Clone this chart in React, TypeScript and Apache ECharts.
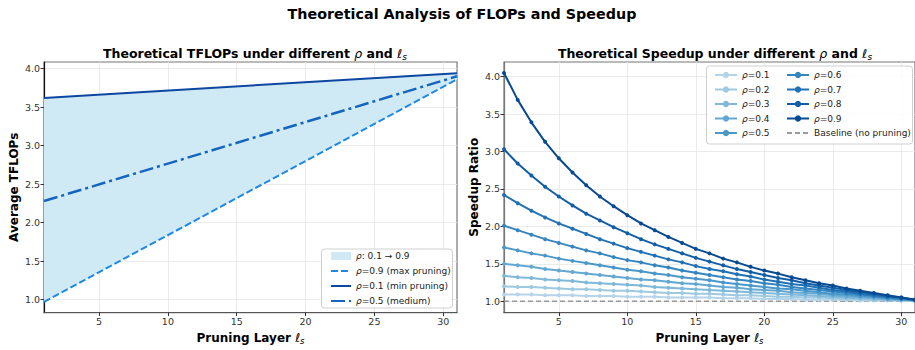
import React, { useEffect, useRef } from "react";
import * as echarts from "echarts";

// ---------- data ----------
const TFLOPS_X = [1, 31];
const TFLOPS_RHO09 = [0.97, 3.86];
const TFLOPS_RHO05 = [2.28, 3.9];
const TFLOPS_RHO01 = [3.62, 3.94];

const LAYERS = [
  1, 2, 3, 4, 5, 6, 7, 8, 9, 10, 11, 12, 13, 14, 15, 16, 17, 18, 19, 20, 21, 22,
  23, 24, 25, 26, 27, 28, 29, 30, 31,
];
const RHO_LABELS = ["0.1", "0.2", "0.3", "0.4", "0.5", "0.6", "0.7", "0.8", "0.9"];
const SPEEDUP_01 = [1.09, 1.09, 1.09, 1.08, 1.08, 1.08, 1.07, 1.07, 1.07, 1.06, 1.06, 1.06, 1.05, 1.05, 1.05, 1.05, 1.04, 1.04, 1.04, 1.03, 1.03, 1.03, 1.02, 1.02, 1.02, 1.02, 1.01, 1.01, 1.01, 1.01, 1.0];
const SPEEDUP_02 = [1.2, 1.19, 1.19, 1.18, 1.17, 1.16, 1.16, 1.15, 1.14, 1.14, 1.13, 1.12, 1.11, 1.11, 1.1, 1.1, 1.09, 1.08, 1.08, 1.07, 1.06, 1.06, 1.05, 1.05, 1.04, 1.03, 1.03, 1.02, 1.02, 1.01, 1.01];
const SPEEDUP_03 = [1.34, 1.32, 1.31, 1.29, 1.28, 1.27, 1.25, 1.24, 1.23, 1.22, 1.21, 1.19, 1.18, 1.17, 1.16, 1.15, 1.14, 1.13, 1.12, 1.11, 1.1, 1.09, 1.08, 1.07, 1.06, 1.05, 1.04, 1.03, 1.02, 1.02, 1.01];
const SPEEDUP_04 = [1.5, 1.48, 1.46, 1.43, 1.41, 1.39, 1.37, 1.35, 1.33, 1.31, 1.29, 1.28, 1.26, 1.24, 1.23, 1.21, 1.19, 1.18, 1.16, 1.15, 1.14, 1.12, 1.11, 1.1, 1.08, 1.07, 1.06, 1.05, 1.03, 1.02, 1.01];
const SPEEDUP_05 = [1.72, 1.68, 1.64, 1.61, 1.57, 1.54, 1.51, 1.48, 1.45, 1.42, 1.4, 1.37, 1.35, 1.32, 1.3, 1.28, 1.25, 1.23, 1.21, 1.19, 1.17, 1.16, 1.14, 1.12, 1.1, 1.09, 1.07, 1.06, 1.04, 1.03, 1.01];
const SPEEDUP_06 = [2.01, 1.95, 1.89, 1.83, 1.78, 1.73, 1.68, 1.64, 1.59, 1.55, 1.52, 1.48, 1.45, 1.41, 1.38, 1.35, 1.32, 1.29, 1.27, 1.24, 1.22, 1.19, 1.17, 1.15, 1.13, 1.11, 1.09, 1.07, 1.05, 1.03, 1.02];
const SPEEDUP_07 = [2.42, 2.31, 2.21, 2.12, 2.04, 1.97, 1.9, 1.83, 1.77, 1.71, 1.66, 1.61, 1.56, 1.52, 1.47, 1.43, 1.4, 1.36, 1.33, 1.29, 1.26, 1.23, 1.21, 1.18, 1.15, 1.13, 1.1, 1.08, 1.06, 1.04, 1.02];
const SPEEDUP_08 = [3.03, 2.84, 2.68, 2.53, 2.4, 2.28, 2.17, 2.08, 1.99, 1.91, 1.83, 1.76, 1.7, 1.64, 1.58, 1.53, 1.48, 1.43, 1.39, 1.35, 1.31, 1.28, 1.24, 1.21, 1.18, 1.15, 1.12, 1.1, 1.07, 1.05, 1.02];
const SPEEDUP_09 = [4.05, 3.69, 3.39, 3.13, 2.91, 2.72, 2.55, 2.4, 2.27, 2.15, 2.04, 1.95, 1.86, 1.78, 1.7, 1.64, 1.57, 1.52, 1.46, 1.41, 1.37, 1.32, 1.28, 1.24, 1.21, 1.17, 1.14, 1.11, 1.08, 1.05, 1.02];
const SPEEDUPS = [SPEEDUP_01, SPEEDUP_02, SPEEDUP_03, SPEEDUP_04, SPEEDUP_05, SPEEDUP_06, SPEEDUP_07, SPEEDUP_08, SPEEDUP_09];
const BASELINE_X = [1, 31];
const BASELINE = [1.0, 1.0];

const X_TICKS = [5, 10, 15, 20, 25, 30];
const LEFT_Y_TICKS = [1.0, 1.5, 2.0, 2.5, 3.0, 3.5, 4.0];
const RIGHT_Y_TICKS = [1.0, 1.5, 2.0, 2.5, 3.0, 3.5, 4.0];

// ---------- styles ----------
const FONT = "DejaVu Sans";
const BLUES = ["#b6d4e9", "#9ecae1", "#7fb9da", "#63a8d3", "#4a98c9", "#3585bf", "#2171b5", "#125ea6", "#084a92"];
const FILL = "#cfe9f5";
const C01 = "#0d47a1";
const C05 = "#1565c0";
const C09 = "#1e88e5";

const subRich = {
  b: { fontFamily: FONT, fontWeight: "bold", fontSize: 12.5, color: "#000" },
  i: { fontFamily: FONT, fontWeight: "normal", fontStyle: "italic", fontSize: 12.5, color: "#000" },
  s: { fontFamily: FONT, fontWeight: "normal", fontStyle: "italic", fontSize: 9, color: "#000", padding: [7, 0, 0, 0] },
};
const nameRich = {
  b: { fontFamily: FONT, fontWeight: "bold", fontSize: 12, color: "#000" },
  i: { fontFamily: FONT, fontWeight: "normal", fontStyle: "italic", fontSize: 12, color: "#000" },
  s: { fontFamily: FONT, fontWeight: "normal", fontStyle: "italic", fontSize: 8.5, color: "#000", padding: [6, 0, 0, 0] },
};
const legendRich = {
  i: { fontFamily: FONT, fontStyle: "italic", fontSize: 9, color: "#222" },
  t: { fontFamily: FONT, fontSize: 9, color: "#222" },
};
const legendFormatter = (name: string) =>
  name.startsWith("ρ") ? "{i|ρ}{t|" + name.slice(1) + "}" : "{t|" + name + "}";

function xAxis(gridIndex: number) {
  return {
    type: "value",
    gridIndex,
    min: 1,
    max: 31,
    name: "{b|Pruning Layer }{i|ℓ}{s|s}",
    nameLocation: "middle",
    nameGap: 16,
    nameTextStyle: { rich: nameRich },
    axisLine: { show: true, lineStyle: { color: "#555", width: 1.2 } },
    axisTick: { show: true, customValues: X_TICKS, length: 3.5, lineStyle: { color: "#333", width: 1 } },
    axisLabel: { customValues: X_TICKS, fontFamily: FONT, fontSize: 9.5, color: "#333", margin: 4 },
    splitLine: { show: true, lineStyle: { color: "#e6e6e6", width: 0.8 } },
  };
}

function yAxis(gridIndex: number, min: number, max: number, ticks: number[], name: string, lineColor: string) {
  return {
    type: "value",
    gridIndex,
    min,
    max,
    name,
    nameLocation: "middle",
    nameGap: 24,
    nameTextStyle: { fontFamily: FONT, fontWeight: "bold", fontSize: 12, color: "#000" },
    axisLine: { show: true, lineStyle: { color: lineColor, width: 1.2 } },
    axisTick: { show: true, customValues: ticks, length: 3.5, lineStyle: { color: "#333", width: 1 } },
    axisLabel: {
      customValues: ticks,
      fontFamily: FONT,
      fontSize: 9.5,
      color: "#333",
      margin: 4,
      formatter: (v: number) => v.toFixed(1),
    },
    splitLine: { show: true, lineStyle: { color: "#e6e6e6", width: 0.8 } },
  };
}

export default function App() {
  const ref = useRef<HTMLDivElement>(null);

  useEffect(() => {
    if (!ref.current) return;
    const chart = echarts.init(ref.current, null, { renderer: "svg" });

    const pair = (xs: number[], ys: number[]) => xs.map((x, i) => [x, ys[i]]);
    const noSym = { opacity: 0 };

    const speedSeries = SPEEDUPS.map((arr, k) => ({
      type: "line",
      name: "ρ=" + RHO_LABELS[k],
      xAxisIndex: 1,
      yAxisIndex: 1,
      data: pair(LAYERS, arr),
      symbol: "circle",
      symbolSize: 4,
      showSymbol: true,
      color: BLUES[k],
      lineStyle: { width: 2, color: BLUES[k] },
      itemStyle: { color: BLUES[k] },
      z: 3 + k,
    }));

    const option: any = {
      animation: false,
      backgroundColor: "#fff",
      title: [
        {
          text: "Theoretical Analysis of FLOPs and Speedup",
          left: 457,
          top: 2,
          textAlign: "center",
          textStyle: { fontFamily: FONT, fontWeight: "bold", fontSize: 14.3, color: "#000" },
        },
        {
          text: "{b|Theoretical TFLOPs under different }{i|ρ}{b| and }{i|ℓ}{s|s}",
          left: 250,
          top: 40,
          textAlign: "center",
          textStyle: { rich: subRich },
        },
        {
          text: "{b|Theoretical Speedup under different }{i|ρ}{b| and }{i|ℓ}{s|s}",
          left: 710,
          top: 40,
          textAlign: "center",
          textStyle: { rich: subRich },
        },
      ],
      grid: [
        { left: 44, top: 62, width: 413, height: 251, show: true, borderColor: "#777", borderWidth: 1.2, backgroundColor: "transparent" },
        { left: 504, top: 62, width: 413, height: 251, show: true, borderColor: "#777", borderWidth: 1.2, backgroundColor: "transparent" },
      ],
      xAxis: [xAxis(0), xAxis(1)],
      yAxis: [
        yAxis(0, 0.831, 4.086, LEFT_Y_TICKS, "Average TFLOPs", "#111"),
        yAxis(1, 0.849, 4.196, RIGHT_Y_TICKS, "Speedup Ratio", "#777"),
      ],
      legend: [
        {
          orient: "vertical",
          left: 325,
          top: 245,
          itemWidth: 20,
          itemHeight: 8,
          itemGap: 3,
          formatter: legendFormatter,
          textStyle: { rich: legendRich, lineHeight: 12 },
          data: [
            { name: "ρ: 0.1 → 0.9", icon: "rect", itemStyle: { color: FILL } },
            { name: "ρ=0.9 (max pruning)", itemStyle: noSym },
            { name: "ρ=0.1 (min pruning)", itemStyle: noSym },
            { name: "ρ=0.5 (medium)", itemStyle: noSym },
          ],
          z: 10,
        },
        {
          orient: "vertical",
          left: 709,
          top: 64,
          itemWidth: 22,
          itemHeight: 8,
          itemGap: 2.5,
          formatter: legendFormatter,
          textStyle: { rich: legendRich, lineHeight: 12 },
          data: ["ρ=0.1", "ρ=0.2", "ρ=0.3", "ρ=0.4", "ρ=0.5"],
          z: 10,
        },
        {
          orient: "vertical",
          left: 781,
          top: 64,
          itemWidth: 22,
          itemHeight: 8,
          itemGap: 2.5,
          formatter: legendFormatter,
          textStyle: { rich: legendRich, lineHeight: 12 },
          data: ["ρ=0.6", "ρ=0.7", "ρ=0.8", "ρ=0.9", { name: "Baseline (no pruning)", itemStyle: noSym }],
          z: 10,
        },
      ],
      graphic: [
        {
          type: "rect",
          z: 8,
          shape: { x: 321.5, y: 249, width: 131, height: 59, r: 3 },
          style: { fill: "rgba(255,255,255,0.85)", stroke: "#d0d0d0", lineWidth: 1 },
        },
        {
          type: "rect",
          z: 8,
          shape: { x: 706.5, y: 66, width: 206, height: 78, r: 3 },
          style: { fill: "rgba(255,255,255,0.85)", stroke: "#d0d0d0", lineWidth: 1 },
        },
      ],
      series: [
        {
          type: "custom",
          name: "ρ: 0.1 → 0.9",
          xAxisIndex: 0,
          yAxisIndex: 0,
          data: [[TFLOPS_X[0], TFLOPS_RHO09[0]]],
          color: FILL,
          silent: true,
          z: 1,
          renderItem: (_params: any, api: any) => {
            const upper = TFLOPS_X.map((x, i) => api.coord([x, TFLOPS_RHO01[i]]));
            const lower = TFLOPS_X.map((x, i) => api.coord([x, TFLOPS_RHO09[i]])).reverse();
            return {
              type: "polygon",
              shape: { points: upper.concat(lower) },
              style: { fill: FILL },
            };
          },
        },
        {
          type: "line",
          name: "ρ=0.9 (max pruning)",
          xAxisIndex: 0,
          yAxisIndex: 0,
          data: pair(TFLOPS_X, TFLOPS_RHO09),
          symbol: "none",
          color: C09,
          lineStyle: { width: 2, color: C09, type: [7, 3] },
          z: 3,
        },
        {
          type: "line",
          name: "ρ=0.1 (min pruning)",
          xAxisIndex: 0,
          yAxisIndex: 0,
          data: pair(TFLOPS_X, TFLOPS_RHO01),
          symbol: "none",
          color: C01,
          lineStyle: { width: 2, color: C01 },
          z: 3,
        },
        {
          type: "line",
          name: "ρ=0.5 (medium)",
          xAxisIndex: 0,
          yAxisIndex: 0,
          data: pair(TFLOPS_X, TFLOPS_RHO05),
          symbol: "none",
          color: C05,
          lineStyle: { width: 2.5, color: C05, type: [14, 4, 3, 4] },
          z: 3,
        },
        ...speedSeries,
        {
          type: "line",
          name: "Baseline (no pruning)",
          xAxisIndex: 1,
          yAxisIndex: 1,
          data: pair(BASELINE_X, BASELINE),
          symbol: "none",
          color: "#888",
          lineStyle: { width: 1.5, color: "#888", type: [5, 3], opacity: 0.85 },
          z: 2,
        },
      ],
    };

    chart.setOption(option);
    return () => chart.dispose();
  }, []);

  return (
    <div
      ref={ref}
      style={{ position: "absolute", left: 0, top: 0, width: 915, height: 350, background: "#fff" }}
    />
  );
}
